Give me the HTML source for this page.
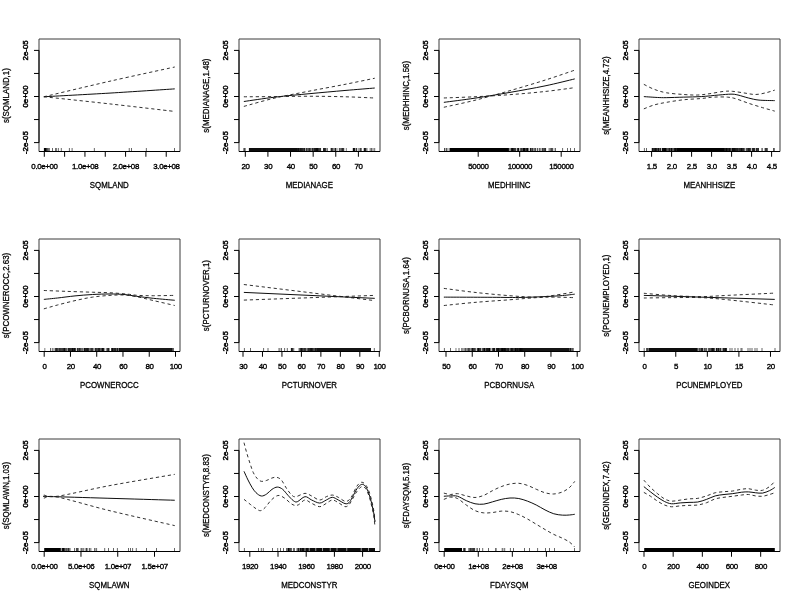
<!DOCTYPE html>
<html><head><meta charset="utf-8"><title>plot.gam</title>
<style>
html,body{margin:0;padding:0;background:#fff;width:800px;height:600px;overflow:hidden}
svg{display:block;will-change:transform}
text{font-family:"Liberation Sans",Arial,Helvetica,sans-serif;font-size:7.9px;fill:#000;stroke:#000;stroke-width:0.35px;text-anchor:middle}
.c{fill:none;stroke:#000;stroke-width:0.95}
.d{stroke-dasharray:3.2 2.8;stroke:#1a1a1a;stroke-width:0.9}
.f{fill:none;stroke:#3a3a3a;stroke-width:1}
.fb{fill:none;stroke:#000;stroke-width:1.05}
.ax{fill:none;stroke:#000;stroke-width:1}
.t{fill:none;stroke:#000;stroke-width:1}
.xl,.yl{stroke-width:0.25px}
.xt{letter-spacing:-0.35px}
.yt{stroke-width:0.45px}
.r{fill:none;stroke:#000;stroke-width:0.6}
</style></head>
<body>
<svg width="800" height="600" viewBox="0 0 800 600">
<rect width="800" height="600" fill="#fff"/>
<g transform="translate(0,0)">
<path class="c" d="M43.85 96.75 C54.88 96.14 88.19 94.39 110.00 93.08 C131.82 91.76 163.96 89.58 174.76 88.88"/>
<path class="c d" d="M43.85 96.75 C54.88 94.16 88.19 86.13 110.00 81.18 C131.82 76.22 163.96 69.36 174.76 67.00"/>
<path class="c d" d="M43.85 96.75 C54.88 97.95 88.19 101.48 110.00 103.93 C131.82 106.38 163.96 110.20 174.76 111.45"/>
<rect x="43.90" y="148.00" width="2.80" height="3.50" fill="#000" fill-opacity="1.00"/>
<path class="r" d="M52.50 148.00V151.50"/>
<path class="r" d="M55.65 148.00V151.50"/>
<path class="r" d="M56.30 148.00V151.50"/>
<path class="r" d="M58.35 148.00V151.50"/>
<path class="r" d="M61.30 148.00V151.50"/>
<path class="r" d="M69.40 148.00V151.50"/>
<path class="r" d="M72.10 148.00V151.50"/>
<path class="r" d="M94.35 148.00V151.50"/>
<path class="r" d="M129.25 148.00V151.50"/>
<path class="r" d="M131.50 148.00V151.50"/>
<path class="r" d="M146.35 148.00V151.50"/>
<path class="r" d="M174.50 148.00V151.50"/>
<path d="M48.00 148.0V151.5M47.30 148.0V151.5M49.30 148.0V151.5M46.99 148.0V151.5M48.84 148.0V151.5" fill="none" stroke="#000" stroke-width="0.50"/>
<path class="f" d="M39.00 151.50H180.00V39.00"/>
<path class="f" d="M180.00 39.00H39.00V151.50"/>
<path class="fb" d="M39.00 151.50H180.00"/>
<path class="t" d="M34.00 142.60H39.00M34.00 119.55H39.00M34.00 96.50H39.00M34.00 73.45H39.00M34.00 50.40H39.00"/>
<path class="ax" d="M39.00 50.40V142.60"/>
<text class="yt" transform="translate(27.90,50.40) rotate(-90) scale(1,1.000)">2e-05</text>
<text class="yt" transform="translate(27.90,96.50) rotate(-90) scale(1,1.000)">0e+00</text>
<text class="yt" transform="translate(27.90,142.60) rotate(-90) scale(1,1.000)">-2e-05</text>
<path class="t" d="M44.30 151.50V156.75M64.62 151.50V156.75M84.94 151.50V156.75M105.26 151.50V156.75M125.58 151.50V156.75M145.90 151.50V156.75M166.22 151.50V156.75"/>
<text class="xt" transform="translate(44.50,169.00) scale(1,1.000)">0.0e+00</text>
<text class="xt" transform="translate(85.14,169.00) scale(1,1.000)">1.0e+08</text>
<text class="xt" transform="translate(125.78,169.00) scale(1,1.000)">2.0e+08</text>
<text class="xt" transform="translate(166.42,169.00) scale(1,1.000)">3.0e+08</text>
<text class="xl" transform="translate(109.3,188.00) scale(1,1.120)">SQMLAND</text>
<text class="yl" transform="translate(9.00,95.6) rotate(-90) scale(1,1.080)">s(SQMLAND,1)</text>
</g>
<g transform="translate(200,0)">
<path class="c" d="M43.85 101.50 C49.04 100.77 63.98 98.44 75.00 97.13 C86.03 95.81 98.34 94.73 110.00 93.63 C121.67 92.52 134.21 91.41 145.01 90.48 C155.80 89.54 169.80 88.43 174.76 88.03"/>
<path class="c d" d="M43.85 106.40 C49.04 105.00 63.98 100.57 75.00 98.00 C86.03 95.43 98.34 93.28 110.00 91.00 C121.67 88.73 134.21 86.48 145.01 84.35 C155.80 82.22 169.80 79.25 174.76 78.23"/>
<path class="c d" d="M43.85 96.78 C49.04 96.75 63.98 96.69 75.00 96.60 C86.03 96.51 98.34 96.22 110.00 96.25 C121.67 96.28 134.21 96.48 145.01 96.78 C155.80 97.07 169.80 97.80 174.76 98.00"/>
<rect x="48.90" y="148.00" width="48.10" height="3.50" fill="#000" fill-opacity="0.95"/>
<path class="r" d="M170.20 148.00V151.50"/>
<path class="r" d="M171.50 148.00V151.50"/>
<path class="r" d="M173.00 148.00V151.50"/>
<path class="r" d="M174.70 148.00V151.50"/>
<path d="M44.81 148.0V151.5M44.04 148.0V151.5M45.17 148.0V151.5M43.99 148.0V151.5M102.20 148.0V151.5M97.84 148.0V151.5M98.09 148.0V151.5M102.09 148.0V151.5M106.92 148.0V151.5M98.49 148.0V151.5M99.68 148.0V151.5M104.53 148.0V151.5M108.37 148.0V151.5M103.93 148.0V151.5M101.76 148.0V151.5M108.72 148.0V151.5M97.56 148.0V151.5M107.30 148.0V151.5M100.48 148.0V151.5M98.73 148.0V151.5M98.41 148.0V151.5M100.70 148.0V151.5M106.79 148.0V151.5M99.17 148.0V151.5M103.98 148.0V151.5M104.67 148.0V151.5M101.47 148.0V151.5M103.57 148.0V151.5M97.75 148.0V151.5M97.72 148.0V151.5M99.47 148.0V151.5M105.16 148.0V151.5M102.13 148.0V151.5M100.77 148.0V151.5M104.03 148.0V151.5M102.44 148.0V151.5M100.60 148.0V151.5M106.53 148.0V151.5M117.18 148.0V151.5M111.86 148.0V151.5M115.72 148.0V151.5M115.14 148.0V151.5M119.24 148.0V151.5M117.53 148.0V151.5M112.37 148.0V151.5M120.47 148.0V151.5M110.38 148.0V151.5M113.89 148.0V151.5M117.86 148.0V151.5M110.78 148.0V151.5M114.72 148.0V151.5M109.46 148.0V151.5M116.82 148.0V151.5M117.95 148.0V151.5M115.70 148.0V151.5M119.24 148.0V151.5M112.67 148.0V151.5M117.13 148.0V151.5M115.95 148.0V151.5M115.78 148.0V151.5M114.34 148.0V151.5M118.83 148.0V151.5M120.05 148.0V151.5M114.55 148.0V151.5M116.77 148.0V151.5M109.71 148.0V151.5M117.21 148.0V151.5M116.57 148.0V151.5M120.62 148.0V151.5M118.62 148.0V151.5M112.33 148.0V151.5M113.51 148.0V151.5M116.82 148.0V151.5M109.26 148.0V151.5M125.48 148.0V151.5M124.16 148.0V151.5M123.93 148.0V151.5M123.67 148.0V151.5M126.86 148.0V151.5M123.98 148.0V151.5M124.51 148.0V151.5M125.16 148.0V151.5M127.32 148.0V151.5M123.76 148.0V151.5M125.42 148.0V151.5M133.39 148.0V151.5M135.32 148.0V151.5M134.95 148.0V151.5M135.21 148.0V151.5M131.81 148.0V151.5M132.61 148.0V151.5M132.28 148.0V151.5M135.33 148.0V151.5M135.75 148.0V151.5M131.08 148.0V151.5M131.22 148.0V151.5M131.55 148.0V151.5M139.29 148.0V151.5M141.75 148.0V151.5M142.77 148.0V151.5M139.57 148.0V151.5M137.04 148.0V151.5M141.11 148.0V151.5M140.62 148.0V151.5M142.55 148.0V151.5M146.34 148.0V151.5M143.77 148.0V151.5M142.05 148.0V151.5M143.05 148.0V151.5M143.63 148.0V151.5M153.59 148.0V151.5M161.20 148.0V151.5M160.12 148.0V151.5M160.97 148.0V151.5M160.28 148.0V151.5M156.63 148.0V151.5M156.69 148.0V151.5M154.03 148.0V151.5M158.81 148.0V151.5M153.66 148.0V151.5M153.71 148.0V151.5M154.98 148.0V151.5M154.56 148.0V151.5M156.16 148.0V151.5M153.57 148.0V151.5M153.10 148.0V151.5M154.46 148.0V151.5M154.01 148.0V151.5M165.27 148.0V151.5M164.09 148.0V151.5M167.06 148.0V151.5M166.15 148.0V151.5M164.52 148.0V151.5M164.88 148.0V151.5M165.22 148.0V151.5M165.27 148.0V151.5M164.43 148.0V151.5" fill="none" stroke="#000" stroke-width="0.50"/>
<path class="f" d="M39.00 151.50H180.00V39.00"/>
<path class="f" d="M180.00 39.00H39.00V151.50"/>
<path class="fb" d="M39.00 151.50H180.00"/>
<path class="t" d="M34.00 142.60H39.00M34.00 119.55H39.00M34.00 96.50H39.00M34.00 73.45H39.00M34.00 50.40H39.00"/>
<path class="ax" d="M39.00 50.40V142.60"/>
<text class="yt" transform="translate(27.90,50.40) rotate(-90) scale(1,1.000)">2e-05</text>
<text class="yt" transform="translate(27.90,96.50) rotate(-90) scale(1,1.000)">0e+00</text>
<text class="yt" transform="translate(27.90,142.60) rotate(-90) scale(1,1.000)">-2e-05</text>
<path class="t" d="M45.30 151.50V156.75M67.92 151.50V156.75M90.54 151.50V156.75M113.16 151.50V156.75M135.78 151.50V156.75M158.40 151.50V156.75"/>
<text class="xt" transform="translate(45.50,169.00) scale(1,1.000)">20</text>
<text class="xt" transform="translate(68.12,169.00) scale(1,1.000)">30</text>
<text class="xt" transform="translate(90.74,169.00) scale(1,1.000)">40</text>
<text class="xt" transform="translate(113.36,169.00) scale(1,1.000)">50</text>
<text class="xt" transform="translate(135.98,169.00) scale(1,1.000)">60</text>
<text class="xt" transform="translate(158.60,169.00) scale(1,1.000)">70</text>
<text class="xl" transform="translate(109.3,188.00) scale(1,1.120)">MEDIANAGE</text>
<text class="yl" transform="translate(9.00,95.6) rotate(-90) scale(1,1.080)">s(MEDIANAGE,1.48)</text>
</g>
<g transform="translate(400,0)">
<path class="c" d="M43.85 102.35 C49.04 101.65 63.98 99.81 75.00 98.15 C86.03 96.49 98.34 94.42 110.00 92.38 C121.67 90.33 134.21 88.15 145.01 85.90 C155.80 83.66 169.80 80.07 174.76 78.90"/>
<path class="c d" d="M43.85 107.25 C49.04 106.09 63.98 103.02 75.00 100.25 C86.03 97.48 98.34 93.98 110.00 90.63 C121.67 87.27 134.21 83.54 145.01 80.13 C155.80 76.71 169.80 71.81 174.76 70.15"/>
<path class="c d" d="M43.85 97.98 C49.04 97.77 63.98 97.31 75.00 96.75 C86.03 96.20 98.34 95.53 110.00 94.65 C121.67 93.78 134.21 92.67 145.01 91.50 C155.80 90.33 169.80 88.29 174.76 87.65"/>
<rect x="50.00" y="148.00" width="58.00" height="3.50" fill="#000" fill-opacity="1.00"/>
<path class="r" d="M162.60 148.00V151.50"/>
<path class="r" d="M167.50 148.00V151.50"/>
<path class="r" d="M170.50 148.00V151.50"/>
<path class="r" d="M174.50 148.00V151.50"/>
<path d="M49.09 148.0V151.5M49.96 148.0V151.5M46.80 148.0V151.5M46.90 148.0V151.5M44.52 148.0V151.5M44.61 148.0V151.5M46.06 148.0V151.5M113.30 148.0V151.5M124.58 148.0V151.5M111.23 148.0V151.5M108.46 148.0V151.5M127.02 148.0V151.5M118.57 148.0V151.5M110.93 148.0V151.5M118.86 148.0V151.5M108.54 148.0V151.5M118.56 148.0V151.5M127.57 148.0V151.5M125.27 148.0V151.5M121.92 148.0V151.5M113.22 148.0V151.5M115.33 148.0V151.5M111.34 148.0V151.5M123.44 148.0V151.5M118.65 148.0V151.5M123.58 148.0V151.5M114.59 148.0V151.5M112.46 148.0V151.5M124.23 148.0V151.5M127.70 148.0V151.5M125.05 148.0V151.5M124.12 148.0V151.5M124.37 148.0V151.5M122.80 148.0V151.5M112.53 148.0V151.5M118.35 148.0V151.5M115.11 148.0V151.5M108.58 148.0V151.5M108.56 148.0V151.5M113.59 148.0V151.5M113.18 148.0V151.5M121.85 148.0V151.5M127.13 148.0V151.5M116.94 148.0V151.5M126.74 148.0V151.5M127.76 148.0V151.5M127.10 148.0V151.5M115.29 148.0V151.5M112.41 148.0V151.5M112.54 148.0V151.5M111.93 148.0V151.5M112.09 148.0V151.5M120.48 148.0V151.5M126.01 148.0V151.5M124.81 148.0V151.5M117.59 148.0V151.5M121.06 148.0V151.5M123.99 148.0V151.5M109.70 148.0V151.5M121.21 148.0V151.5M126.20 148.0V151.5M123.65 148.0V151.5M123.00 148.0V151.5M117.56 148.0V151.5M111.57 148.0V151.5M123.78 148.0V151.5M114.65 148.0V151.5M124.02 148.0V151.5M127.43 148.0V151.5M135.13 148.0V151.5M135.22 148.0V151.5M145.04 148.0V151.5M141.05 148.0V151.5M131.06 148.0V151.5M130.29 148.0V151.5M130.72 148.0V151.5M144.29 148.0V151.5M142.52 148.0V151.5M130.63 148.0V151.5M142.88 148.0V151.5M145.65 148.0V151.5M139.83 148.0V151.5M134.31 148.0V151.5M137.88 148.0V151.5M130.36 148.0V151.5M128.26 148.0V151.5M145.48 148.0V151.5M139.69 148.0V151.5M137.48 148.0V151.5M144.81 148.0V151.5M135.81 148.0V151.5M143.69 148.0V151.5M142.87 148.0V151.5M131.80 148.0V151.5M132.53 148.0V151.5M133.27 148.0V151.5M132.33 148.0V151.5M152.69 148.0V151.5M150.07 148.0V151.5M151.35 148.0V151.5M149.05 148.0V151.5M155.28 148.0V151.5M150.83 148.0V151.5M151.67 148.0V151.5M152.67 148.0V151.5M155.23 148.0V151.5" fill="none" stroke="#000" stroke-width="0.50"/>
<path class="f" d="M39.00 151.50H180.00V39.00"/>
<path class="f" d="M180.00 39.00H39.00V151.50"/>
<path class="fb" d="M39.00 151.50H180.00"/>
<path class="t" d="M34.00 142.60H39.00M34.00 119.55H39.00M34.00 96.50H39.00M34.00 73.45H39.00M34.00 50.40H39.00"/>
<path class="ax" d="M39.00 50.40V142.60"/>
<text class="yt" transform="translate(27.90,50.40) rotate(-90) scale(1,1.000)">2e-05</text>
<text class="yt" transform="translate(27.90,96.50) rotate(-90) scale(1,1.000)">0e+00</text>
<text class="yt" transform="translate(27.90,142.60) rotate(-90) scale(1,1.000)">-2e-05</text>
<path class="t" d="M78.20 151.50V156.75M119.70 151.50V156.75M161.20 151.50V156.75"/>
<text class="xt" transform="translate(78.40,169.00) scale(1,1.000)">50000</text>
<text class="xt" transform="translate(119.90,169.00) scale(1,1.000)">100000</text>
<text class="xt" transform="translate(161.40,169.00) scale(1,1.000)">150000</text>
<text class="xl" transform="translate(109.3,188.00) scale(1,1.120)">MEDHHINC</text>
<text class="yl" transform="translate(9.00,95.6) rotate(-90) scale(1,1.080)">s(MEDHHINC,1.56)</text>
</g>
<g transform="translate(600,0)">
<path class="c" d="M43.85 96.60 C46.13 96.75 53.77 97.30 57.50 97.48 C61.23 97.65 61.88 97.71 66.25 97.65 C70.63 97.59 77.92 97.30 83.75 97.13 C89.59 96.95 95.42 96.95 101.25 96.60 C107.09 96.25 113.80 95.43 118.75 95.03 C123.71 94.62 127.80 94.15 131.00 94.15 C134.21 94.15 135.09 94.38 138.00 95.03 C140.92 95.67 145.01 97.16 148.51 98.00 C152.01 98.85 154.63 99.66 159.01 100.10 C163.38 100.54 172.13 100.54 174.76 100.63"/>
<path class="c d" d="M43.85 84.35 C45.54 85.17 50.27 87.85 54.00 89.25 C57.73 90.65 61.29 91.88 66.25 92.75 C71.21 93.63 78.50 94.12 83.75 94.50 C89.00 94.88 93.38 95.17 97.75 95.03 C102.13 94.88 105.63 94.24 110.00 93.63 C114.38 93.01 120.21 91.73 124.00 91.35 C127.80 90.97 129.25 91.06 132.75 91.35 C136.25 91.64 141.21 92.58 145.01 93.10 C148.80 93.63 152.01 94.56 155.51 94.50 C159.01 94.44 162.80 93.48 166.01 92.75 C169.21 92.02 173.30 90.56 174.76 90.13"/>
<path class="c d" d="M43.85 108.85 C45.54 108.21 50.27 106.08 54.00 105.00 C57.73 103.92 61.29 103.25 66.25 102.38 C71.21 101.50 77.92 100.39 83.75 99.75 C89.59 99.11 96.29 98.96 101.25 98.53 C106.21 98.09 109.13 97.36 113.50 97.13 C117.88 96.89 123.71 96.83 127.50 97.13 C131.30 97.42 132.75 97.86 136.25 98.88 C139.75 99.90 144.13 101.79 148.51 103.25 C152.88 104.71 158.13 106.31 162.51 107.63 C166.88 108.94 172.71 110.54 174.76 111.13"/>
<path class="r" d="M44.40 148.00V151.50"/>
<path class="r" d="M46.50 148.00V151.50"/>
<rect x="77.00" y="148.00" width="47.00" height="3.50" fill="#000" fill-opacity="1.00"/>
<path d="M62.52 148.0V151.5M74.94 148.0V151.5M64.54 148.0V151.5M65.30 148.0V151.5M65.09 148.0V151.5M52.47 148.0V151.5M63.00 148.0V151.5M56.58 148.0V151.5M52.10 148.0V151.5M71.98 148.0V151.5M56.31 148.0V151.5M63.84 148.0V151.5M70.13 148.0V151.5M65.91 148.0V151.5M60.15 148.0V151.5M64.96 148.0V151.5M65.89 148.0V151.5M71.61 148.0V151.5M54.65 148.0V151.5M66.01 148.0V151.5M58.21 148.0V151.5M58.92 148.0V151.5M71.31 148.0V151.5M64.69 148.0V151.5M66.04 148.0V151.5M71.00 148.0V151.5M74.81 148.0V151.5M63.08 148.0V151.5M67.31 148.0V151.5M64.64 148.0V151.5M64.80 148.0V151.5M69.32 148.0V151.5M63.31 148.0V151.5M65.33 148.0V151.5M63.95 148.0V151.5M75.54 148.0V151.5M69.48 148.0V151.5M73.91 148.0V151.5M75.55 148.0V151.5M58.49 148.0V151.5M65.99 148.0V151.5M75.58 148.0V151.5M73.00 148.0V151.5M55.43 148.0V151.5M55.04 148.0V151.5M63.05 148.0V151.5M53.81 148.0V151.5M58.02 148.0V151.5M53.83 148.0V151.5M68.74 148.0V151.5M71.60 148.0V151.5M74.43 148.0V151.5M55.86 148.0V151.5M69.90 148.0V151.5M68.51 148.0V151.5M55.57 148.0V151.5M74.07 148.0V151.5M76.19 148.0V151.5M57.49 148.0V151.5M75.81 148.0V151.5M61.96 148.0V151.5M64.18 148.0V151.5M76.75 148.0V151.5M72.81 148.0V151.5M56.04 148.0V151.5M62.79 148.0V151.5M64.89 148.0V151.5M60.48 148.0V151.5M56.89 148.0V151.5M59.96 148.0V151.5M70.05 148.0V151.5M52.49 148.0V151.5M65.85 148.0V151.5M63.01 148.0V151.5M52.45 148.0V151.5M60.29 148.0V151.5M67.60 148.0V151.5M64.81 148.0V151.5M53.61 148.0V151.5M76.63 148.0V151.5M71.71 148.0V151.5M76.29 148.0V151.5M54.62 148.0V151.5M58.64 148.0V151.5M52.99 148.0V151.5M71.47 148.0V151.5M58.76 148.0V151.5M55.24 148.0V151.5M62.56 148.0V151.5M74.79 148.0V151.5M152.66 148.0V151.5M133.05 148.0V151.5M129.23 148.0V151.5M156.17 148.0V151.5M143.97 148.0V151.5M148.51 148.0V151.5M127.13 148.0V151.5M126.01 148.0V151.5M148.09 148.0V151.5M138.89 148.0V151.5M126.53 148.0V151.5M156.84 148.0V151.5M146.21 148.0V151.5M152.06 148.0V151.5M126.93 148.0V151.5M153.97 148.0V151.5M126.33 148.0V151.5M154.20 148.0V151.5M139.88 148.0V151.5M135.87 148.0V151.5M143.36 148.0V151.5M156.43 148.0V151.5M133.38 148.0V151.5M128.52 148.0V151.5M142.44 148.0V151.5M132.35 148.0V151.5M127.83 148.0V151.5M129.65 148.0V151.5M125.76 148.0V151.5M131.06 148.0V151.5M134.92 148.0V151.5M134.68 148.0V151.5M150.58 148.0V151.5M134.15 148.0V151.5M141.50 148.0V151.5M130.23 148.0V151.5M136.15 148.0V151.5M124.64 148.0V151.5M132.77 148.0V151.5M124.54 148.0V151.5M149.66 148.0V151.5M143.29 148.0V151.5M130.63 148.0V151.5M140.62 148.0V151.5M156.71 148.0V151.5M127.72 148.0V151.5M152.66 148.0V151.5M139.13 148.0V151.5M141.33 148.0V151.5M153.21 148.0V151.5M137.76 148.0V151.5M141.73 148.0V151.5M148.07 148.0V151.5M158.39 148.0V151.5M135.99 148.0V151.5M153.13 148.0V151.5M148.74 148.0V151.5M146.26 148.0V151.5M138.16 148.0V151.5M136.16 148.0V151.5M125.90 148.0V151.5M128.54 148.0V151.5M126.48 148.0V151.5M149.93 148.0V151.5M132.95 148.0V151.5M129.71 148.0V151.5M126.96 148.0V151.5M153.44 148.0V151.5M154.47 148.0V151.5M147.47 148.0V151.5M133.87 148.0V151.5M132.48 148.0V151.5M134.26 148.0V151.5M140.08 148.0V151.5M129.51 148.0V151.5M139.60 148.0V151.5M133.21 148.0V151.5M157.66 148.0V151.5M158.04 148.0V151.5M143.15 148.0V151.5M132.56 148.0V151.5M157.80 148.0V151.5M134.83 148.0V151.5M136.48 148.0V151.5M124.04 148.0V151.5M137.36 148.0V151.5M140.61 148.0V151.5M141.60 148.0V151.5M131.03 148.0V151.5M141.67 148.0V151.5M124.17 148.0V151.5M133.25 148.0V151.5M127.14 148.0V151.5M137.98 148.0V151.5M125.46 148.0V151.5M124.79 148.0V151.5M134.65 148.0V151.5M132.15 148.0V151.5M144.50 148.0V151.5M142.52 148.0V151.5M150.27 148.0V151.5M147.01 148.0V151.5M149.06 148.0V151.5M154.77 148.0V151.5M137.63 148.0V151.5M135.41 148.0V151.5M158.47 148.0V151.5M129.23 148.0V151.5M149.35 148.0V151.5M165.68 148.0V151.5M161.78 148.0V151.5M166.93 148.0V151.5M167.30 148.0V151.5M165.58 148.0V151.5M166.27 148.0V151.5M166.78 148.0V151.5M162.41 148.0V151.5M164.90 148.0V151.5M173.51 148.0V151.5M174.17 148.0V151.5M174.11 148.0V151.5" fill="none" stroke="#000" stroke-width="0.50"/>
<path class="f" d="M39.00 151.50H180.00V39.00"/>
<path class="f" d="M180.00 39.00H39.00V151.50"/>
<path class="fb" d="M39.00 151.50H180.00"/>
<path class="t" d="M34.00 142.60H39.00M34.00 119.55H39.00M34.00 96.50H39.00M34.00 73.45H39.00M34.00 50.40H39.00"/>
<path class="ax" d="M39.00 50.40V142.60"/>
<text class="yt" transform="translate(27.90,50.40) rotate(-90) scale(1,1.000)">2e-05</text>
<text class="yt" transform="translate(27.90,96.50) rotate(-90) scale(1,1.000)">0e+00</text>
<text class="yt" transform="translate(27.90,142.60) rotate(-90) scale(1,1.000)">-2e-05</text>
<path class="t" d="M51.60 151.50V156.75M71.60 151.50V156.75M91.60 151.50V156.75M111.60 151.50V156.75M131.60 151.50V156.75M151.60 151.50V156.75M171.60 151.50V156.75"/>
<text class="xt" transform="translate(51.80,169.00) scale(1,1.000)">1.5</text>
<text class="xt" transform="translate(71.80,169.00) scale(1,1.000)">2.0</text>
<text class="xt" transform="translate(91.80,169.00) scale(1,1.000)">2.5</text>
<text class="xt" transform="translate(111.80,169.00) scale(1,1.000)">3.0</text>
<text class="xt" transform="translate(131.80,169.00) scale(1,1.000)">3.5</text>
<text class="xt" transform="translate(151.80,169.00) scale(1,1.000)">4.0</text>
<text class="xt" transform="translate(171.80,169.00) scale(1,1.000)">4.5</text>
<text class="xl" transform="translate(109.3,188.00) scale(1,1.120)">MEANHHSIZE</text>
<text class="yl" transform="translate(9.00,95.6) rotate(-90) scale(1,1.080)">s(MEANHHSIZE,4.72)</text>
</g>
<g transform="translate(0,200)">
<path class="c" d="M43.85 99.40 C46.13 99.17 52.31 98.58 57.50 98.00 C62.69 97.42 69.17 96.48 75.00 95.90 C80.84 95.32 86.67 94.82 92.50 94.50 C98.34 94.18 104.75 93.98 110.00 93.98 C115.25 93.98 119.63 94.12 124.00 94.50 C128.38 94.88 131.30 95.61 136.25 96.25 C141.21 96.89 147.34 97.68 153.76 98.35 C160.17 99.02 171.26 99.96 174.76 100.28"/>
<path class="c d" d="M43.85 90.48 C47.58 90.62 58.14 91.06 66.25 91.35 C74.36 91.64 85.21 91.99 92.50 92.23 C99.79 92.46 104.17 92.43 110.00 92.75 C115.84 93.07 122.84 93.71 127.50 94.15 C132.17 94.59 133.63 95.11 138.00 95.38 C142.38 95.64 147.63 95.73 153.76 95.73 C159.88 95.73 171.26 95.43 174.76 95.38"/>
<path class="c d" d="M43.85 108.85 C46.13 108.21 52.31 106.37 57.50 105.00 C62.69 103.63 69.17 101.94 75.00 100.63 C80.84 99.31 86.67 98.00 92.50 97.13 C98.34 96.25 104.75 95.73 110.00 95.38 C115.25 95.03 119.63 94.82 124.00 95.03 C128.38 95.23 131.30 95.67 136.25 96.60 C141.21 97.53 147.34 99.14 153.76 100.63 C160.17 102.11 171.26 104.71 174.76 105.53"/>
<path class="r" d="M50.50 148.00V151.50"/>
<path class="r" d="M52.30 148.00V151.50"/>
<path class="r" d="M54.00 148.00V151.50"/>
<path class="r" d="M55.50 148.00V151.50"/>
<rect x="119.00" y="148.00" width="53.00" height="3.50" fill="#000" fill-opacity="0.90"/>
<path d="M44.83 148.0V151.5M92.80 148.0V151.5M112.25 148.0V151.5M99.02 148.0V151.5M99.68 148.0V151.5M70.49 148.0V151.5M57.96 148.0V151.5M64.38 148.0V151.5M78.72 148.0V151.5M62.61 148.0V151.5M108.66 148.0V151.5M91.19 148.0V151.5M95.55 148.0V151.5M95.45 148.0V151.5M98.88 148.0V151.5M86.83 148.0V151.5M56.21 148.0V151.5M106.25 148.0V151.5M103.14 148.0V151.5M87.69 148.0V151.5M89.72 148.0V151.5M97.54 148.0V151.5M60.16 148.0V151.5M102.42 148.0V151.5M71.89 148.0V151.5M60.69 148.0V151.5M72.73 148.0V151.5M101.95 148.0V151.5M68.93 148.0V151.5M102.61 148.0V151.5M117.47 148.0V151.5M87.12 148.0V151.5M80.10 148.0V151.5M86.18 148.0V151.5M99.07 148.0V151.5M104.32 148.0V151.5M94.87 148.0V151.5M96.49 148.0V151.5M60.88 148.0V151.5M65.29 148.0V151.5M72.00 148.0V151.5M102.82 148.0V151.5M75.18 148.0V151.5M91.77 148.0V151.5M56.79 148.0V151.5M59.82 148.0V151.5M72.93 148.0V151.5M98.34 148.0V151.5M99.61 148.0V151.5M98.57 148.0V151.5M74.32 148.0V151.5M88.54 148.0V151.5M85.27 148.0V151.5M85.38 148.0V151.5M63.47 148.0V151.5M112.30 148.0V151.5M68.55 148.0V151.5M117.62 148.0V151.5M114.98 148.0V151.5M57.10 148.0V151.5M84.92 148.0V151.5M107.65 148.0V151.5M116.99 148.0V151.5M84.32 148.0V151.5M72.93 148.0V151.5M69.22 148.0V151.5M115.57 148.0V151.5M69.27 148.0V151.5M92.63 148.0V151.5M64.93 148.0V151.5M89.02 148.0V151.5M116.02 148.0V151.5M64.35 148.0V151.5M107.67 148.0V151.5M88.05 148.0V151.5M111.87 148.0V151.5M100.31 148.0V151.5M70.58 148.0V151.5M112.56 148.0V151.5M86.63 148.0V151.5M57.56 148.0V151.5M56.23 148.0V151.5M86.98 148.0V151.5M84.40 148.0V151.5M75.02 148.0V151.5M64.86 148.0V151.5M77.67 148.0V151.5M75.91 148.0V151.5M108.93 148.0V151.5M56.11 148.0V151.5M103.30 148.0V151.5M108.86 148.0V151.5M63.56 148.0V151.5M114.36 148.0V151.5M100.92 148.0V151.5M112.80 148.0V151.5M74.26 148.0V151.5M79.45 148.0V151.5M80.75 148.0V151.5M118.92 148.0V151.5M93.12 148.0V151.5M78.72 148.0V151.5M82.97 148.0V151.5M73.33 148.0V151.5M59.04 148.0V151.5M62.41 148.0V151.5M108.58 148.0V151.5M73.99 148.0V151.5M114.94 148.0V151.5M71.71 148.0V151.5M72.74 148.0V151.5M88.19 148.0V151.5M67.96 148.0V151.5M79.52 148.0V151.5M116.24 148.0V151.5M111.71 148.0V151.5M107.15 148.0V151.5M95.75 148.0V151.5M113.55 148.0V151.5M115.26 148.0V151.5M90.60 148.0V151.5M101.33 148.0V151.5M59.12 148.0V151.5M102.14 148.0V151.5M84.40 148.0V151.5M103.42 148.0V151.5M96.60 148.0V151.5M74.03 148.0V151.5M59.09 148.0V151.5M114.39 148.0V151.5M64.02 148.0V151.5M85.75 148.0V151.5M77.65 148.0V151.5M74.76 148.0V151.5M102.56 148.0V151.5M117.51 148.0V151.5M72.39 148.0V151.5M97.33 148.0V151.5M74.95 148.0V151.5M91.11 148.0V151.5M80.85 148.0V151.5M66.54 148.0V151.5M66.18 148.0V151.5M69.10 148.0V151.5M113.08 148.0V151.5M87.32 148.0V151.5M69.86 148.0V151.5M113.09 148.0V151.5M118.78 148.0V151.5M84.35 148.0V151.5M64.79 148.0V151.5M68.12 148.0V151.5M61.72 148.0V151.5M77.54 148.0V151.5M61.74 148.0V151.5M71.06 148.0V151.5M72.28 148.0V151.5M91.89 148.0V151.5M111.90 148.0V151.5M103.23 148.0V151.5M82.01 148.0V151.5M82.07 148.0V151.5M173.31 148.0V151.5M172.94 148.0V151.5M172.85 148.0V151.5M172.16 148.0V151.5" fill="none" stroke="#000" stroke-width="0.50"/>
<path class="f" d="M39.00 151.50H180.00V39.00"/>
<path class="f" d="M180.00 39.00H39.00V151.50"/>
<path class="fb" d="M39.00 151.50H180.00"/>
<path class="t" d="M34.00 142.60H39.00M34.00 119.55H39.00M34.00 96.50H39.00M34.00 73.45H39.00M34.00 50.40H39.00"/>
<path class="ax" d="M39.00 50.40V142.60"/>
<text class="yt" transform="translate(27.90,50.40) rotate(-90) scale(1,1.000)">2e-05</text>
<text class="yt" transform="translate(27.90,96.50) rotate(-90) scale(1,1.000)">0e+00</text>
<text class="yt" transform="translate(27.90,142.60) rotate(-90) scale(1,1.000)">-2e-05</text>
<path class="t" d="M44.20 151.50V156.75M70.46 151.50V156.75M96.72 151.50V156.75M122.98 151.50V156.75M149.24 151.50V156.75M175.50 151.50V156.75"/>
<text class="xt" transform="translate(44.40,169.00) scale(1,1.000)">0</text>
<text class="xt" transform="translate(70.66,169.00) scale(1,1.000)">20</text>
<text class="xt" transform="translate(96.92,169.00) scale(1,1.000)">40</text>
<text class="xt" transform="translate(123.18,169.00) scale(1,1.000)">60</text>
<text class="xt" transform="translate(149.44,169.00) scale(1,1.000)">80</text>
<text class="xt" transform="translate(175.70,169.00) scale(1,1.000)">100</text>
<text class="xl" transform="translate(109.3,188.00) scale(1,1.120)">PCOWNEROCC</text>
<text class="yl" transform="translate(9.00,95.6) rotate(-90) scale(1,1.080)">s(PCOWNEROCC,2.63)</text>
</g>
<g transform="translate(200,200)">
<path class="c" d="M43.85 92.40 L174.76 98.35"/>
<path class="c d" d="M43.85 84.53 L174.76 100.63"/>
<path class="c d" d="M43.85 100.10 L174.76 95.38"/>
<path class="r" d="M44.40 148.00V151.50"/>
<path class="r" d="M50.50 148.00V151.50"/>
<path class="r" d="M63.60 148.00V151.50"/>
<path class="r" d="M68.00 148.00V151.50"/>
<path class="r" d="M81.50 148.00V151.50"/>
<path class="r" d="M84.60 148.00V151.50"/>
<path class="r" d="M87.30 148.00V151.50"/>
<rect x="117.00" y="148.00" width="54.00" height="3.50" fill="#000" fill-opacity="0.92"/>
<path class="r" d="M174.30 148.00V151.50"/>
<path d="M78.92 148.0V151.5M79.95 148.0V151.5M91.24 148.0V151.5M92.56 148.0V151.5M93.00 148.0V151.5M93.82 148.0V151.5M91.56 148.0V151.5M91.75 148.0V151.5M91.67 148.0V151.5M92.20 148.0V151.5M98.96 148.0V151.5M100.28 148.0V151.5M100.01 148.0V151.5M100.07 148.0V151.5M101.35 148.0V151.5M101.52 148.0V151.5M112.35 148.0V151.5M115.33 148.0V151.5M108.57 148.0V151.5M110.39 148.0V151.5M101.00 148.0V151.5M107.26 148.0V151.5M115.83 148.0V151.5M114.21 148.0V151.5M114.69 148.0V151.5M116.56 148.0V151.5M104.98 148.0V151.5M102.74 148.0V151.5M103.47 148.0V151.5M109.36 148.0V151.5M111.91 148.0V151.5M116.06 148.0V151.5M112.55 148.0V151.5M111.36 148.0V151.5M113.24 148.0V151.5M108.32 148.0V151.5M109.82 148.0V151.5M101.63 148.0V151.5M113.52 148.0V151.5M104.72 148.0V151.5M115.72 148.0V151.5M111.33 148.0V151.5M105.86 148.0V151.5M103.05 148.0V151.5M105.03 148.0V151.5M111.18 148.0V151.5M112.18 148.0V151.5M102.79 148.0V151.5M102.13 148.0V151.5M109.39 148.0V151.5M110.33 148.0V151.5M107.21 148.0V151.5M104.58 148.0V151.5M110.62 148.0V151.5M101.17 148.0V151.5M105.82 148.0V151.5M108.37 148.0V151.5M116.34 148.0V151.5M111.31 148.0V151.5M115.14 148.0V151.5" fill="none" stroke="#000" stroke-width="0.50"/>
<path class="f" d="M39.00 151.50H180.00V39.00"/>
<path class="f" d="M180.00 39.00H39.00V151.50"/>
<path class="fb" d="M39.00 151.50H180.00"/>
<path class="t" d="M34.00 142.60H39.00M34.00 119.55H39.00M34.00 96.50H39.00M34.00 73.45H39.00M34.00 50.40H39.00"/>
<path class="ax" d="M39.00 50.40V142.60"/>
<text class="yt" transform="translate(27.90,50.40) rotate(-90) scale(1,1.000)">2e-05</text>
<text class="yt" transform="translate(27.90,96.50) rotate(-90) scale(1,1.000)">0e+00</text>
<text class="yt" transform="translate(27.90,142.60) rotate(-90) scale(1,1.000)">-2e-05</text>
<path class="t" d="M43.00 151.50V156.75M62.47 151.50V156.75M81.94 151.50V156.75M101.41 151.50V156.75M120.88 151.50V156.75M140.35 151.50V156.75M159.82 151.50V156.75M179.29 151.50V156.75"/>
<text class="xt" transform="translate(43.20,169.00) scale(1,1.000)">30</text>
<text class="xt" transform="translate(62.67,169.00) scale(1,1.000)">40</text>
<text class="xt" transform="translate(82.14,169.00) scale(1,1.000)">50</text>
<text class="xt" transform="translate(101.61,169.00) scale(1,1.000)">60</text>
<text class="xt" transform="translate(121.08,169.00) scale(1,1.000)">70</text>
<text class="xt" transform="translate(140.55,169.00) scale(1,1.000)">80</text>
<text class="xt" transform="translate(160.02,169.00) scale(1,1.000)">90</text>
<text class="xt" transform="translate(179.49,169.00) scale(1,1.000)">100</text>
<text class="xl" transform="translate(109.3,188.00) scale(1,1.120)">PCTURNOVER</text>
<text class="yl" transform="translate(9.00,95.6) rotate(-90) scale(1,1.080)">s(PCTURNOVER,1)</text>
</g>
<g transform="translate(400,200)">
<path class="c" d="M43.85 97.13 C51.96 97.16 80.02 97.24 92.50 97.30 C104.99 97.36 110.00 97.59 118.75 97.48 C127.50 97.36 137.71 96.92 145.01 96.60 C152.30 96.28 157.55 95.96 162.51 95.55 C167.46 95.14 172.71 94.38 174.76 94.15"/>
<path class="c d" d="M43.85 88.38 C49.04 89.05 63.98 91.18 75.00 92.40 C86.03 93.63 99.79 94.94 110.00 95.73 C120.21 96.51 128.96 97.18 136.25 97.13 C143.55 97.07 147.34 96.25 153.76 95.38 C160.17 94.50 171.26 92.46 174.76 91.88"/>
<path class="c d" d="M43.85 105.53 C49.04 105.00 63.98 103.34 75.00 102.38 C86.03 101.41 99.79 100.54 110.00 99.75 C120.21 98.96 128.96 98.09 136.25 97.65 C143.55 97.21 147.34 97.13 153.76 97.13 C160.17 97.13 171.26 97.56 174.76 97.65"/>
<path class="r" d="M44.40 148.00V151.50"/>
<path class="r" d="M50.50 148.00V151.50"/>
<path class="r" d="M59.00 148.00V151.50"/>
<path class="r" d="M65.50 148.00V151.50"/>
<rect x="122.00" y="148.00" width="47.50" height="3.50" fill="#000" fill-opacity="0.92"/>
<path d="M55.98 148.0V151.5M61.94 148.0V151.5M61.99 148.0V151.5M64.84 148.0V151.5M63.82 148.0V151.5M68.04 148.0V151.5M66.61 148.0V151.5M68.99 148.0V151.5M69.87 148.0V151.5M68.60 148.0V151.5M67.79 148.0V151.5M69.84 148.0V151.5M71.13 148.0V151.5M72.52 148.0V151.5M71.65 148.0V151.5M73.02 148.0V151.5M73.39 148.0V151.5M74.57 148.0V151.5M72.39 148.0V151.5M75.09 148.0V151.5M74.83 148.0V151.5M73.77 148.0V151.5M72.42 148.0V151.5M75.86 148.0V151.5M72.90 148.0V151.5M83.56 148.0V151.5M78.85 148.0V151.5M78.77 148.0V151.5M83.08 148.0V151.5M79.36 148.0V151.5M84.62 148.0V151.5M80.97 148.0V151.5M78.50 148.0V151.5M78.79 148.0V151.5M80.34 148.0V151.5M82.32 148.0V151.5M84.59 148.0V151.5M78.17 148.0V151.5M80.15 148.0V151.5M78.70 148.0V151.5M84.79 148.0V151.5M78.14 148.0V151.5M77.41 148.0V151.5M77.48 148.0V151.5M80.15 148.0V151.5M84.19 148.0V151.5M84.07 148.0V151.5M82.86 148.0V151.5M84.98 148.0V151.5M84.45 148.0V151.5M88.96 148.0V151.5M87.67 148.0V151.5M94.42 148.0V151.5M92.72 148.0V151.5M86.29 148.0V151.5M91.98 148.0V151.5M89.41 148.0V151.5M89.36 148.0V151.5M88.99 148.0V151.5M87.52 148.0V151.5M86.03 148.0V151.5M88.52 148.0V151.5M89.16 148.0V151.5M94.60 148.0V151.5M87.11 148.0V151.5M94.68 148.0V151.5M87.87 148.0V151.5M89.21 148.0V151.5M93.39 148.0V151.5M93.40 148.0V151.5M89.89 148.0V151.5M86.44 148.0V151.5M90.26 148.0V151.5M89.35 148.0V151.5M94.28 148.0V151.5M87.74 148.0V151.5M89.28 148.0V151.5M94.07 148.0V151.5M86.27 148.0V151.5M89.70 148.0V151.5M93.31 148.0V151.5M92.90 148.0V151.5M97.06 148.0V151.5M96.91 148.0V151.5M97.63 148.0V151.5M119.92 148.0V151.5M102.68 148.0V151.5M115.43 148.0V151.5M119.36 148.0V151.5M104.82 148.0V151.5M103.08 148.0V151.5M120.90 148.0V151.5M112.04 148.0V151.5M102.82 148.0V151.5M114.63 148.0V151.5M104.23 148.0V151.5M103.17 148.0V151.5M96.10 148.0V151.5M115.65 148.0V151.5M119.83 148.0V151.5M112.48 148.0V151.5M120.52 148.0V151.5M96.63 148.0V151.5M102.08 148.0V151.5M108.35 148.0V151.5M120.88 148.0V151.5M120.80 148.0V151.5M106.05 148.0V151.5M102.53 148.0V151.5M107.18 148.0V151.5M108.83 148.0V151.5M120.13 148.0V151.5M100.76 148.0V151.5M116.87 148.0V151.5M115.20 148.0V151.5M117.39 148.0V151.5M116.09 148.0V151.5M111.79 148.0V151.5M104.52 148.0V151.5M104.31 148.0V151.5M105.41 148.0V151.5M116.34 148.0V151.5M98.05 148.0V151.5M101.13 148.0V151.5M115.58 148.0V151.5M102.43 148.0V151.5M97.68 148.0V151.5M96.88 148.0V151.5M110.37 148.0V151.5M104.47 148.0V151.5M121.49 148.0V151.5M118.97 148.0V151.5M121.68 148.0V151.5M102.89 148.0V151.5M98.19 148.0V151.5M98.51 148.0V151.5M108.96 148.0V151.5M114.45 148.0V151.5M107.62 148.0V151.5M102.09 148.0V151.5M106.84 148.0V151.5M112.13 148.0V151.5M113.53 148.0V151.5M115.45 148.0V151.5M118.02 148.0V151.5M113.28 148.0V151.5M99.15 148.0V151.5M117.86 148.0V151.5M103.64 148.0V151.5M110.74 148.0V151.5M105.70 148.0V151.5M115.19 148.0V151.5M101.18 148.0V151.5M102.43 148.0V151.5M102.38 148.0V151.5M99.99 148.0V151.5M118.99 148.0V151.5M111.04 148.0V151.5M104.48 148.0V151.5M106.30 148.0V151.5M121.80 148.0V151.5M109.19 148.0V151.5M102.02 148.0V151.5M117.02 148.0V151.5M112.99 148.0V151.5M121.76 148.0V151.5M98.66 148.0V151.5M108.34 148.0V151.5M117.30 148.0V151.5M117.85 148.0V151.5M119.77 148.0V151.5M97.05 148.0V151.5M103.64 148.0V151.5M99.10 148.0V151.5M100.93 148.0V151.5M121.30 148.0V151.5M111.16 148.0V151.5M120.18 148.0V151.5M105.68 148.0V151.5M118.52 148.0V151.5M107.68 148.0V151.5M102.76 148.0V151.5M116.22 148.0V151.5M120.59 148.0V151.5M98.75 148.0V151.5M111.50 148.0V151.5M112.12 148.0V151.5M101.66 148.0V151.5M105.59 148.0V151.5M99.68 148.0V151.5M101.30 148.0V151.5M102.63 148.0V151.5M172.68 148.0V151.5M172.95 148.0V151.5M170.58 148.0V151.5M169.56 148.0V151.5M171.23 148.0V151.5M173.10 148.0V151.5M170.48 148.0V151.5M171.15 148.0V151.5M170.58 148.0V151.5" fill="none" stroke="#000" stroke-width="0.50"/>
<path class="f" d="M39.00 151.50H180.00V39.00"/>
<path class="f" d="M180.00 39.00H39.00V151.50"/>
<path class="fb" d="M39.00 151.50H180.00"/>
<path class="t" d="M34.00 142.60H39.00M34.00 119.55H39.00M34.00 96.50H39.00M34.00 73.45H39.00M34.00 50.40H39.00"/>
<path class="ax" d="M39.00 50.40V142.60"/>
<text class="yt" transform="translate(27.90,50.40) rotate(-90) scale(1,1.000)">2e-05</text>
<text class="yt" transform="translate(27.90,96.50) rotate(-90) scale(1,1.000)">0e+00</text>
<text class="yt" transform="translate(27.90,142.60) rotate(-90) scale(1,1.000)">-2e-05</text>
<path class="t" d="M46.00 151.50V156.75M72.24 151.50V156.75M98.48 151.50V156.75M124.72 151.50V156.75M150.96 151.50V156.75M177.20 151.50V156.75"/>
<text class="xt" transform="translate(46.20,169.00) scale(1,1.000)">50</text>
<text class="xt" transform="translate(72.44,169.00) scale(1,1.000)">60</text>
<text class="xt" transform="translate(98.68,169.00) scale(1,1.000)">70</text>
<text class="xt" transform="translate(124.92,169.00) scale(1,1.000)">80</text>
<text class="xt" transform="translate(151.16,169.00) scale(1,1.000)">90</text>
<text class="xt" transform="translate(177.40,169.00) scale(1,1.000)">100</text>
<text class="xl" transform="translate(109.3,188.00) scale(1,1.120)">PCBORNUSA</text>
<text class="yl" transform="translate(9.00,95.6) rotate(-90) scale(1,1.080)">s(PCBORNUSA,1.64)</text>
</g>
<g transform="translate(600,200)">
<path class="c" d="M43.85 95.38 L174.76 99.40"/>
<path class="c d" d="M43.85 93.28 C48.46 93.66 61.93 95.00 71.50 95.55 C81.07 96.11 91.92 96.63 101.25 96.60 C110.59 96.57 115.25 95.96 127.50 95.38 C139.75 94.79 166.88 93.48 174.76 93.10"/>
<path class="c d" d="M43.85 98.00 C48.46 97.94 61.93 97.71 71.50 97.65 C81.07 97.59 91.92 97.30 101.25 97.65 C110.59 98.00 115.25 98.53 127.50 99.75 C139.75 100.98 166.88 104.13 174.76 105.00"/>
<path class="r" d="M44.20 148.00V151.50"/>
<rect x="48.80" y="148.00" width="48.70" height="3.50" fill="#000" fill-opacity="0.95"/>
<path class="r" d="M130.00 148.00V151.50"/>
<path class="r" d="M132.00 148.00V151.50"/>
<path class="r" d="M135.00 148.00V151.50"/>
<path class="r" d="M138.00 148.00V151.50"/>
<path class="r" d="M141.00 148.00V151.50"/>
<path class="r" d="M142.00 148.00V151.50"/>
<path class="r" d="M148.00 148.00V151.50"/>
<path class="r" d="M150.00 148.00V151.50"/>
<path class="r" d="M152.00 148.00V151.50"/>
<path class="r" d="M155.00 148.00V151.50"/>
<path class="r" d="M157.00 148.00V151.50"/>
<path class="r" d="M162.00 148.00V151.50"/>
<path class="r" d="M175.00 148.00V151.50"/>
<path d="M48.33 148.0V151.5M47.76 148.0V151.5M46.65 148.0V151.5M46.73 148.0V151.5M47.41 148.0V151.5M104.38 148.0V151.5M105.49 148.0V151.5M98.64 148.0V151.5M99.55 148.0V151.5M106.19 148.0V151.5M102.62 148.0V151.5M101.04 148.0V151.5M101.34 148.0V151.5M109.41 148.0V151.5M101.40 148.0V151.5M104.58 148.0V151.5M101.96 148.0V151.5M102.71 148.0V151.5M108.30 148.0V151.5M109.96 148.0V151.5M102.05 148.0V151.5M99.97 148.0V151.5M106.60 148.0V151.5M100.05 148.0V151.5M97.57 148.0V151.5M108.77 148.0V151.5M102.80 148.0V151.5M123.95 148.0V151.5M116.91 148.0V151.5M125.01 148.0V151.5M117.84 148.0V151.5M112.76 148.0V151.5M110.25 148.0V151.5M119.38 148.0V151.5M120.89 148.0V151.5M125.47 148.0V151.5M111.51 148.0V151.5M120.58 148.0V151.5M116.30 148.0V151.5M118.58 148.0V151.5M112.48 148.0V151.5M114.82 148.0V151.5M118.86 148.0V151.5M125.73 148.0V151.5M111.85 148.0V151.5M118.34 148.0V151.5M123.68 148.0V151.5M126.44 148.0V151.5M113.35 148.0V151.5M112.15 148.0V151.5M126.03 148.0V151.5M126.58 148.0V151.5M118.21 148.0V151.5M110.91 148.0V151.5M125.74 148.0V151.5M116.59 148.0V151.5M125.37 148.0V151.5M120.55 148.0V151.5M124.02 148.0V151.5M112.72 148.0V151.5M123.36 148.0V151.5M113.78 148.0V151.5M116.88 148.0V151.5M124.39 148.0V151.5M124.10 148.0V151.5M113.11 148.0V151.5M113.71 148.0V151.5M116.80 148.0V151.5M118.80 148.0V151.5M116.52 148.0V151.5M112.09 148.0V151.5M114.20 148.0V151.5M122.32 148.0V151.5" fill="none" stroke="#000" stroke-width="0.50"/>
<path class="f" d="M39.00 151.50H180.00V39.00"/>
<path class="f" d="M180.00 39.00H39.00V151.50"/>
<path class="fb" d="M39.00 151.50H180.00"/>
<path class="t" d="M34.00 142.60H39.00M34.00 119.55H39.00M34.00 96.50H39.00M34.00 73.45H39.00M34.00 50.40H39.00"/>
<path class="ax" d="M39.00 50.40V142.60"/>
<text class="yt" transform="translate(27.90,50.40) rotate(-90) scale(1,1.000)">2e-05</text>
<text class="yt" transform="translate(27.90,96.50) rotate(-90) scale(1,1.000)">0e+00</text>
<text class="yt" transform="translate(27.90,142.60) rotate(-90) scale(1,1.000)">-2e-05</text>
<path class="t" d="M44.20 151.50V156.75M75.77 151.50V156.75M107.34 151.50V156.75M138.91 151.50V156.75M170.48 151.50V156.75"/>
<text class="xt" transform="translate(44.40,169.00) scale(1,1.000)">0</text>
<text class="xt" transform="translate(75.97,169.00) scale(1,1.000)">5</text>
<text class="xt" transform="translate(107.54,169.00) scale(1,1.000)">10</text>
<text class="xt" transform="translate(139.11,169.00) scale(1,1.000)">15</text>
<text class="xt" transform="translate(170.68,169.00) scale(1,1.000)">20</text>
<text class="xl" transform="translate(109.3,188.00) scale(1,1.120)">PCUNEMPLOYED</text>
<text class="yl" transform="translate(9.00,95.6) rotate(-90) scale(1,1.080)">s(PCUNEMPLOYED,1)</text>
</g>
<g transform="translate(0,400)">
<path class="c" d="M43.85 96.40 C46.13 96.46 35.68 96.11 57.50 96.75 C79.32 97.39 155.21 99.67 174.76 100.25"/>
<path class="c d" d="M43.85 95.00 C46.13 95.21 46.48 97.80 57.50 96.23 C68.53 94.65 90.46 89.20 110.00 85.55 C129.55 81.91 163.96 76.22 174.76 74.35"/>
<path class="c d" d="M43.85 98.15 C46.13 97.98 46.48 95.00 57.50 97.10 C68.53 99.20 90.46 106.00 110.00 110.75 C129.55 115.51 163.96 123.15 174.76 125.63"/>
<rect x="44.20" y="148.00" width="15.80" height="3.50" fill="#000" fill-opacity="1.00"/>
<path class="r" d="M74.50 148.00V151.50"/>
<path class="r" d="M96.60 148.00V151.50"/>
<path class="r" d="M104.70 148.00V151.50"/>
<path class="r" d="M108.50 148.00V151.50"/>
<path class="r" d="M113.50 148.00V151.50"/>
<path class="r" d="M117.40 148.00V151.50"/>
<path class="r" d="M128.50 148.00V151.50"/>
<path class="r" d="M130.50 148.00V151.50"/>
<path class="r" d="M132.60 148.00V151.50"/>
<path class="r" d="M136.30 148.00V151.50"/>
<path class="r" d="M146.50 148.00V151.50"/>
<path class="r" d="M156.50 148.00V151.50"/>
<path class="r" d="M174.50 148.00V151.50"/>
<path d="M65.38 148.0V151.5M60.25 148.0V151.5M63.37 148.0V151.5M64.54 148.0V151.5M60.23 148.0V151.5M65.03 148.0V151.5M60.71 148.0V151.5M63.60 148.0V151.5M63.30 148.0V151.5M63.76 148.0V151.5M61.84 148.0V151.5M62.52 148.0V151.5M63.50 148.0V151.5M62.55 148.0V151.5M63.95 148.0V151.5M62.68 148.0V151.5M62.63 148.0V151.5M60.14 148.0V151.5M63.71 148.0V151.5M68.45 148.0V151.5M67.18 148.0V151.5M69.82 148.0V151.5M69.90 148.0V151.5M68.29 148.0V151.5M66.90 148.0V151.5M68.37 148.0V151.5M66.54 148.0V151.5M76.51 148.0V151.5M77.72 148.0V151.5M76.37 148.0V151.5M77.77 148.0V151.5M78.04 148.0V151.5M81.12 148.0V151.5M82.91 148.0V151.5M81.25 148.0V151.5M83.20 148.0V151.5M87.33 148.0V151.5M86.53 148.0V151.5M85.16 148.0V151.5M86.51 148.0V151.5M89.76 148.0V151.5M90.90 148.0V151.5M89.27 148.0V151.5M94.71 148.0V151.5M94.99 148.0V151.5" fill="none" stroke="#000" stroke-width="0.50"/>
<path class="f" d="M39.00 151.50H180.00V39.00"/>
<path class="f" d="M180.00 39.00H39.00V151.50"/>
<path class="fb" d="M39.00 151.50H180.00"/>
<path class="t" d="M34.00 142.60H39.00M34.00 119.55H39.00M34.00 96.50H39.00M34.00 73.45H39.00M34.00 50.40H39.00"/>
<path class="ax" d="M39.00 50.40V142.60"/>
<text class="yt" transform="translate(27.90,50.40) rotate(-90) scale(1,1.000)">2e-05</text>
<text class="yt" transform="translate(27.90,96.50) rotate(-90) scale(1,1.000)">0e+00</text>
<text class="yt" transform="translate(27.90,142.60) rotate(-90) scale(1,1.000)">-2e-05</text>
<path class="t" d="M44.20 151.50V156.75M80.97 151.50V156.75M117.74 151.50V156.75M154.51 151.50V156.75"/>
<text class="xt" transform="translate(44.40,169.00) scale(1,1.000)">0.0e+00</text>
<text class="xt" transform="translate(81.17,169.00) scale(1,1.000)">5.0e+06</text>
<text class="xt" transform="translate(117.94,169.00) scale(1,1.000)">1.0e+07</text>
<text class="xt" transform="translate(154.71,169.00) scale(1,1.000)">1.5e+07</text>
<text class="xl" transform="translate(109.3,188.00) scale(1,1.120)">SQMLAWN</text>
<text class="yl" transform="translate(9.00,95.6) rotate(-90) scale(1,1.080)">s(SQMLAWN,1.03)</text>
</g>
<g transform="translate(200,400)">
<path class="c" d="M44.01 71.33 C44.67 72.78 46.66 77.33 48.00 79.99 C49.33 82.66 50.67 85.22 52.01 87.33 C53.34 89.44 54.44 91.22 56.00 92.67 C57.55 94.11 59.55 95.79 61.33 96.01 C63.11 96.23 64.89 95.11 66.67 94.00 C68.45 92.88 70.23 90.50 72.01 89.34 C73.79 88.19 75.55 87.07 77.33 87.07 C79.11 87.07 80.89 87.96 82.67 89.34 C84.45 90.72 86.23 93.46 88.00 95.34 C89.78 97.23 91.79 99.60 93.34 100.66 C94.90 101.73 95.39 102.40 97.33 101.73 C99.28 101.07 102.61 96.96 105.00 96.67 C107.39 96.38 109.22 98.93 111.67 100.00 C114.11 101.06 117.22 103.06 119.66 103.06 C122.11 103.06 124.22 100.95 126.33 100.00 C128.44 99.04 130.33 97.34 132.33 97.34 C134.34 97.34 136.23 98.95 138.34 100.00 C140.45 101.04 143.23 103.16 145.01 103.60 C146.78 104.05 147.77 103.70 149.00 102.66 C150.22 101.61 151.01 99.67 152.34 97.34 C153.67 95.01 155.44 90.83 156.99 88.68 C158.55 86.52 160.22 84.74 161.67 84.40 C163.11 84.07 164.45 85.06 165.67 86.66 C166.90 88.26 168.00 91.22 169.00 94.00 C170.00 96.78 170.88 100.23 171.66 103.34 C172.44 106.45 173.11 109.56 173.67 112.67 C174.23 115.78 174.78 120.44 175.00 122.00"/>
<path class="c d" d="M44.01 42.67 C44.45 44.33 45.67 49.21 46.67 52.66 C47.67 56.10 48.88 60.00 49.99 63.33 C51.10 66.67 52.11 70.11 53.34 72.66 C54.56 75.22 55.99 77.22 57.33 78.66 C58.66 80.11 59.78 81.05 61.33 81.34 C62.89 81.63 64.89 80.95 66.67 80.40 C68.45 79.84 70.34 78.51 72.01 78.00 C73.67 77.49 75.11 77.00 76.66 77.33 C78.22 77.67 79.67 78.10 81.34 79.99 C83.01 81.88 84.90 86.12 86.67 88.68 C88.45 91.23 90.44 94.01 92.00 95.34 C93.55 96.68 93.84 97.01 96.00 96.67 C98.17 96.34 102.39 93.44 105.00 93.33 C107.61 93.22 109.22 94.90 111.67 96.01 C114.11 97.12 117.22 99.89 119.66 100.00 C122.11 100.11 124.22 97.50 126.33 96.67 C128.44 95.85 130.33 94.95 132.33 95.06 C134.34 95.17 136.23 96.29 138.34 97.34 C140.45 98.38 143.23 100.88 145.01 101.33 C146.78 101.77 147.77 101.00 149.00 100.00 C150.22 99.00 151.01 97.66 152.34 95.33 C153.67 92.99 155.44 88.17 156.99 86.00 C158.55 83.82 160.22 82.45 161.67 82.27 C163.11 82.09 164.45 83.42 165.67 84.93 C166.90 86.44 168.00 88.71 169.00 91.34 C170.00 93.96 170.88 97.55 171.66 100.66 C172.44 103.78 173.11 106.67 173.67 110.01 C174.23 113.34 174.78 118.89 175.00 120.67"/>
<path class="c d" d="M44.01 99.33 C45.12 100.22 48.68 103.12 50.68 104.67 C52.67 106.23 54.33 107.66 56.00 108.66 C57.66 109.66 59.11 110.90 60.67 110.67 C62.23 110.45 63.68 109.00 65.34 107.33 C67.01 105.66 68.89 102.51 70.66 100.66 C72.44 98.82 74.44 97.11 76.00 96.27 C77.56 95.43 78.45 95.21 80.01 95.61 C81.56 96.01 83.55 97.38 85.33 98.67 C87.10 99.96 89.11 102.23 90.67 103.34 C92.22 104.45 93.34 105.11 94.67 105.34 C96.01 105.56 96.94 105.56 98.66 104.67 C100.38 103.78 102.83 100.22 105.00 100.00 C107.17 99.78 109.22 102.23 111.67 103.34 C114.11 104.45 117.22 106.67 119.66 106.67 C122.11 106.67 124.22 104.45 126.33 103.34 C128.44 102.23 130.33 100.11 132.33 100.00 C134.34 99.88 136.23 101.55 138.34 102.66 C140.45 103.77 143.23 106.33 145.01 106.67 C146.78 107.00 147.77 105.89 149.00 104.67 C150.22 103.45 151.01 101.56 152.34 99.33 C153.67 97.11 155.44 93.45 156.99 91.34 C158.55 89.22 160.22 87.11 161.67 86.66 C163.11 86.22 164.45 87.12 165.67 88.68 C166.90 90.23 168.00 93.12 169.00 96.01 C170.00 98.90 170.88 102.78 171.66 106.00 C172.44 109.22 173.14 112.11 173.67 115.33 C174.21 118.55 174.66 123.67 174.86 125.34"/>
<path class="r" d="M44.40 148.00V151.50"/>
<path class="r" d="M58.50 148.00V151.50"/>
<path class="r" d="M61.30 148.00V151.50"/>
<path class="r" d="M63.30 148.00V151.50"/>
<path class="r" d="M72.50 148.00V151.50"/>
<path class="r" d="M77.70 148.00V151.50"/>
<path class="r" d="M80.50 148.00V151.50"/>
<path class="r" d="M83.50 148.00V151.50"/>
<rect x="102.00" y="148.00" width="73.00" height="3.50" fill="#000" fill-opacity="0.95"/>
<rect x="104.60" y="148.00" width="0.8" height="3.00" fill="#fff" fill-opacity="0.7"/>
<rect x="108.80" y="148.00" width="0.8" height="3.00" fill="#fff" fill-opacity="0.7"/>
<rect x="122.10" y="148.00" width="0.8" height="3.00" fill="#fff" fill-opacity="0.7"/>
<rect x="115.40" y="148.00" width="0.8" height="3.00" fill="#fff" fill-opacity="0.7"/>
<rect x="129.80" y="148.00" width="0.8" height="3.00" fill="#fff" fill-opacity="0.7"/>
<rect x="136.60" y="148.00" width="0.8" height="3.00" fill="#fff" fill-opacity="0.7"/>
<rect x="146.40" y="148.00" width="0.8" height="3.00" fill="#fff" fill-opacity="0.7"/>
<rect x="160.80" y="148.00" width="0.8" height="3.00" fill="#fff" fill-opacity="0.7"/>
<rect x="168.10" y="148.00" width="0.8" height="3.00" fill="#fff" fill-opacity="0.7"/>
<path d="M97.71 148.0V151.5M99.04 148.0V151.5M89.10 148.0V151.5M101.71 148.0V151.5M93.87 148.0V151.5M101.31 148.0V151.5M100.66 148.0V151.5M88.64 148.0V151.5M98.61 148.0V151.5M100.89 148.0V151.5M87.05 148.0V151.5M91.61 148.0V151.5M98.10 148.0V151.5M88.54 148.0V151.5M100.34 148.0V151.5M90.40 148.0V151.5M99.05 148.0V151.5M88.30 148.0V151.5M94.04 148.0V151.5M100.72 148.0V151.5M89.33 148.0V151.5M90.21 148.0V151.5M94.10 148.0V151.5M91.11 148.0V151.5M86.59 148.0V151.5M88.91 148.0V151.5M88.58 148.0V151.5M100.98 148.0V151.5M96.87 148.0V151.5M100.33 148.0V151.5M88.70 148.0V151.5M98.56 148.0V151.5M87.84 148.0V151.5" fill="none" stroke="#000" stroke-width="0.50"/>
<path class="f" d="M39.00 151.50H180.00V39.00"/>
<path class="f" d="M180.00 39.00H39.00V151.50"/>
<path class="fb" d="M39.00 151.50H180.00"/>
<path class="t" d="M34.00 142.60H39.00M34.00 119.55H39.00M34.00 96.50H39.00M34.00 73.45H39.00M34.00 50.40H39.00"/>
<path class="ax" d="M39.00 50.40V142.60"/>
<text class="yt" transform="translate(27.90,50.40) rotate(-90) scale(1,1.000)">2e-05</text>
<text class="yt" transform="translate(27.90,96.50) rotate(-90) scale(1,1.000)">0e+00</text>
<text class="yt" transform="translate(27.90,142.60) rotate(-90) scale(1,1.000)">-2e-05</text>
<path class="t" d="M49.80 151.50V156.75M78.00 151.50V156.75M106.20 151.50V156.75M134.40 151.50V156.75M162.60 151.50V156.75"/>
<text class="xt" transform="translate(50.00,169.00) scale(1,1.000)">1920</text>
<text class="xt" transform="translate(78.20,169.00) scale(1,1.000)">1940</text>
<text class="xt" transform="translate(106.40,169.00) scale(1,1.000)">1960</text>
<text class="xt" transform="translate(134.60,169.00) scale(1,1.000)">1980</text>
<text class="xt" transform="translate(162.80,169.00) scale(1,1.000)">2000</text>
<text class="xl" transform="translate(109.3,188.00) scale(1,1.120)">MEDCONSTYR</text>
<text class="yl" transform="translate(9.00,95.6) rotate(-90) scale(1,1.080)">s(MEDCONSTYR,8.83)</text>
</g>
<g transform="translate(400,400)">
<path class="c" d="M43.85 96.25 C44.96 96.19 48.23 95.90 50.50 95.90 C52.78 95.90 54.88 95.46 57.50 96.25 C60.13 97.04 63.33 99.37 66.25 100.63 C69.17 101.88 72.08 103.19 75.00 103.78 C77.92 104.36 80.84 104.45 83.75 104.13 C86.67 103.81 89.59 102.64 92.50 101.85 C95.42 101.06 98.34 100.04 101.25 99.40 C104.17 98.76 107.09 98.15 110.00 98.00 C112.92 97.86 115.84 98.00 118.75 98.53 C121.67 99.05 124.59 100.07 127.50 101.15 C130.42 102.23 133.34 103.54 136.25 105.00 C139.17 106.46 142.09 108.44 145.01 109.90 C147.92 111.36 150.84 112.88 153.76 113.75 C156.67 114.63 159.88 114.95 162.51 115.15 C165.13 115.36 167.46 115.12 169.51 114.98 C171.55 114.83 173.88 114.39 174.76 114.28"/>
<path class="c d" d="M43.85 93.10 C44.96 93.33 48.23 94.41 50.50 94.50 C52.78 94.59 54.88 93.39 57.50 93.63 C60.13 93.86 63.33 95.26 66.25 95.90 C69.17 96.54 72.08 97.56 75.00 97.48 C77.92 97.39 80.84 96.51 83.75 95.38 C86.67 94.24 89.59 92.11 92.50 90.65 C95.42 89.19 98.34 87.73 101.25 86.63 C104.17 85.52 107.09 84.55 110.00 84.00 C112.92 83.45 115.84 83.07 118.75 83.30 C121.67 83.53 124.59 84.41 127.50 85.40 C130.42 86.39 133.34 88.03 136.25 89.25 C139.17 90.48 142.09 91.96 145.01 92.75 C147.92 93.54 150.84 94.12 153.76 93.98 C156.67 93.83 159.88 92.96 162.51 91.88 C165.13 90.80 167.46 89.25 169.51 87.50 C171.55 85.75 173.88 82.40 174.76 81.38"/>
<path class="c d" d="M43.85 99.40 C44.96 99.02 48.23 97.27 50.50 97.13 C52.78 96.98 54.88 97.21 57.50 98.53 C60.13 99.84 63.33 102.99 66.25 105.00 C69.17 107.01 72.08 109.29 75.00 110.60 C77.92 111.91 80.84 112.56 83.75 112.88 C86.67 113.20 89.59 112.82 92.50 112.53 C95.42 112.24 98.34 111.27 101.25 111.13 C104.17 110.98 107.09 111.07 110.00 111.65 C112.92 112.24 115.84 113.40 118.75 114.63 C121.67 115.85 124.59 117.40 127.50 119.00 C130.42 120.61 133.34 122.50 136.25 124.25 C139.17 126.00 142.09 127.81 145.01 129.50 C147.92 131.19 150.84 132.94 153.76 134.40 C156.67 135.86 159.88 136.97 162.51 138.25 C165.13 139.54 167.46 140.65 169.51 142.10 C171.55 143.56 173.88 146.19 174.76 147.00"/>
<rect x="44.20" y="148.00" width="17.80" height="3.50" fill="#000" fill-opacity="1.00"/>
<path class="r" d="M79.50 148.00V151.50"/>
<path class="r" d="M82.70 148.00V151.50"/>
<path class="r" d="M88.50 148.00V151.50"/>
<path class="r" d="M104.70 148.00V151.50"/>
<path class="r" d="M110.40 148.00V151.50"/>
<path class="r" d="M113.50 148.00V151.50"/>
<path class="r" d="M124.50 148.00V151.50"/>
<path class="r" d="M129.50 148.00V151.50"/>
<path class="r" d="M137.60 148.00V151.50"/>
<path class="r" d="M145.50 148.00V151.50"/>
<path class="r" d="M149.50 148.00V151.50"/>
<path class="r" d="M154.50 148.00V151.50"/>
<path class="r" d="M174.50 148.00V151.50"/>
<path d="M64.12 148.0V151.5M64.55 148.0V151.5M63.44 148.0V151.5M65.49 148.0V151.5M64.22 148.0V151.5M64.32 148.0V151.5M73.30 148.0V151.5M68.63 148.0V151.5M73.96 148.0V151.5M71.78 148.0V151.5M70.37 148.0V151.5M72.79 148.0V151.5M69.59 148.0V151.5M73.94 148.0V151.5M71.46 148.0V151.5M70.16 148.0V151.5M72.59 148.0V151.5M70.65 148.0V151.5M74.71 148.0V151.5M76.97 148.0V151.5M74.19 148.0V151.5M77.28 148.0V151.5M95.51 148.0V151.5M96.28 148.0V151.5M102.97 148.0V151.5M102.17 148.0V151.5" fill="none" stroke="#000" stroke-width="0.50"/>
<path class="f" d="M39.00 151.50H180.00V39.00"/>
<path class="f" d="M180.00 39.00H39.00V151.50"/>
<path class="fb" d="M39.00 151.50H180.00"/>
<path class="t" d="M34.00 142.60H39.00M34.00 119.55H39.00M34.00 96.50H39.00M34.00 73.45H39.00M34.00 50.40H39.00"/>
<path class="ax" d="M39.00 50.40V142.60"/>
<text class="yt" transform="translate(27.90,50.40) rotate(-90) scale(1,1.000)">2e-05</text>
<text class="yt" transform="translate(27.90,96.50) rotate(-90) scale(1,1.000)">0e+00</text>
<text class="yt" transform="translate(27.90,142.60) rotate(-90) scale(1,1.000)">-2e-05</text>
<path class="t" d="M44.20 151.50V156.75M78.27 151.50V156.75M112.34 151.50V156.75M146.41 151.50V156.75"/>
<text class="xt" transform="translate(44.40,169.00) scale(1,1.000)">0e+00</text>
<text class="xt" transform="translate(78.47,169.00) scale(1,1.000)">1e+08</text>
<text class="xt" transform="translate(112.54,169.00) scale(1,1.000)">2e+08</text>
<text class="xt" transform="translate(146.61,169.00) scale(1,1.000)">3e+08</text>
<text class="xl" transform="translate(109.3,188.00) scale(1,1.120)">FDAYSQM</text>
<text class="yl" transform="translate(9.00,95.6) rotate(-90) scale(1,1.080)">s(FDAYSQM,5.18)</text>
</g>
<g transform="translate(600,400)">
<path class="c" d="M43.85 86.63 C44.96 87.50 48.23 90.13 50.50 91.88 C52.78 93.63 55.17 95.52 57.50 97.13 C59.83 98.73 62.17 100.39 64.50 101.50 C66.83 102.61 68.88 103.54 71.50 103.78 C74.13 104.01 77.34 103.13 80.25 102.90 C83.17 102.67 86.09 102.52 89.00 102.38 C91.92 102.23 94.84 102.52 97.75 102.03 C100.67 101.53 103.59 100.42 106.50 99.40 C109.42 98.38 112.34 96.72 115.25 95.90 C118.17 95.08 121.09 94.88 124.00 94.50 C126.92 94.12 129.84 94.01 132.75 93.63 C135.67 93.25 138.88 92.52 141.51 92.23 C144.13 91.93 146.17 91.79 148.51 91.88 C150.84 91.96 153.17 92.55 155.51 92.75 C157.84 92.96 160.17 93.45 162.51 93.10 C164.84 92.75 167.46 91.58 169.51 90.65 C171.55 89.72 173.88 88.03 174.76 87.50"/>
<path class="c d" d="M43.85 80.15 C44.96 81.38 48.23 85.25 50.50 87.50 C52.78 89.75 55.17 91.73 57.50 93.63 C59.83 95.52 62.17 97.62 64.50 98.88 C66.83 100.13 68.88 100.95 71.50 101.15 C74.13 101.36 77.34 100.48 80.25 100.10 C83.17 99.72 86.09 99.17 89.00 98.88 C91.92 98.58 94.84 98.85 97.75 98.35 C100.67 97.86 103.59 96.83 106.50 95.90 C109.42 94.97 112.34 93.45 115.25 92.75 C118.17 92.05 121.09 91.99 124.00 91.70 C126.92 91.41 129.84 91.41 132.75 91.00 C135.67 90.59 138.88 89.63 141.51 89.25 C144.13 88.87 146.17 88.58 148.51 88.73 C150.84 88.87 153.17 89.86 155.51 90.13 C157.84 90.39 160.17 90.88 162.51 90.30 C164.84 89.72 167.46 88.11 169.51 86.63 C171.55 85.14 173.88 82.25 174.76 81.38"/>
<path class="c d" d="M43.85 92.40 C44.96 93.04 48.23 94.79 50.50 96.25 C52.78 97.71 55.17 99.69 57.50 101.15 C59.83 102.61 62.17 104.07 64.50 105.00 C66.83 105.94 68.88 106.61 71.50 106.75 C74.13 106.90 77.34 106.11 80.25 105.88 C83.17 105.64 86.09 105.50 89.00 105.35 C91.92 105.21 94.84 105.44 97.75 105.00 C100.67 104.56 103.59 103.75 106.50 102.73 C109.42 101.71 112.34 99.78 115.25 98.88 C118.17 97.97 121.09 97.74 124.00 97.30 C126.92 96.86 129.84 96.63 132.75 96.25 C135.67 95.87 138.88 95.32 141.51 95.03 C144.13 94.73 146.17 94.36 148.51 94.50 C150.84 94.65 153.17 95.61 155.51 95.90 C157.84 96.19 160.17 96.48 162.51 96.25 C164.84 96.02 167.46 95.08 169.51 94.50 C171.55 93.92 173.88 93.04 174.76 92.75"/>
<rect x="44.20" y="148.00" width="130.60" height="3.50" fill="#000" fill-opacity="1.00"/>
<path class="f" d="M39.00 151.50H180.00V39.00"/>
<path class="f" d="M180.00 39.00H39.00V151.50"/>
<path class="fb" d="M39.00 151.50H180.00"/>
<path class="t" d="M34.00 142.60H39.00M34.00 119.55H39.00M34.00 96.50H39.00M34.00 73.45H39.00M34.00 50.40H39.00"/>
<path class="ax" d="M39.00 50.40V142.60"/>
<text class="yt" transform="translate(27.90,50.40) rotate(-90) scale(1,1.000)">2e-05</text>
<text class="yt" transform="translate(27.90,96.50) rotate(-90) scale(1,1.000)">0e+00</text>
<text class="yt" transform="translate(27.90,142.60) rotate(-90) scale(1,1.000)">-2e-05</text>
<path class="t" d="M44.00 151.50V156.75M73.17 151.50V156.75M102.34 151.50V156.75M131.51 151.50V156.75M160.68 151.50V156.75"/>
<text class="xt" transform="translate(44.20,169.00) scale(1,1.000)">0</text>
<text class="xt" transform="translate(73.37,169.00) scale(1,1.000)">200</text>
<text class="xt" transform="translate(102.54,169.00) scale(1,1.000)">400</text>
<text class="xt" transform="translate(131.71,169.00) scale(1,1.000)">600</text>
<text class="xt" transform="translate(160.88,169.00) scale(1,1.000)">800</text>
<text class="xl" transform="translate(109.3,188.00) scale(1,1.120)">GEOINDEX</text>
<text class="yl" transform="translate(9.00,95.6) rotate(-90) scale(1,1.080)">s(GEOINDEX,7.42)</text>
</g>
</svg>
</body></html>
